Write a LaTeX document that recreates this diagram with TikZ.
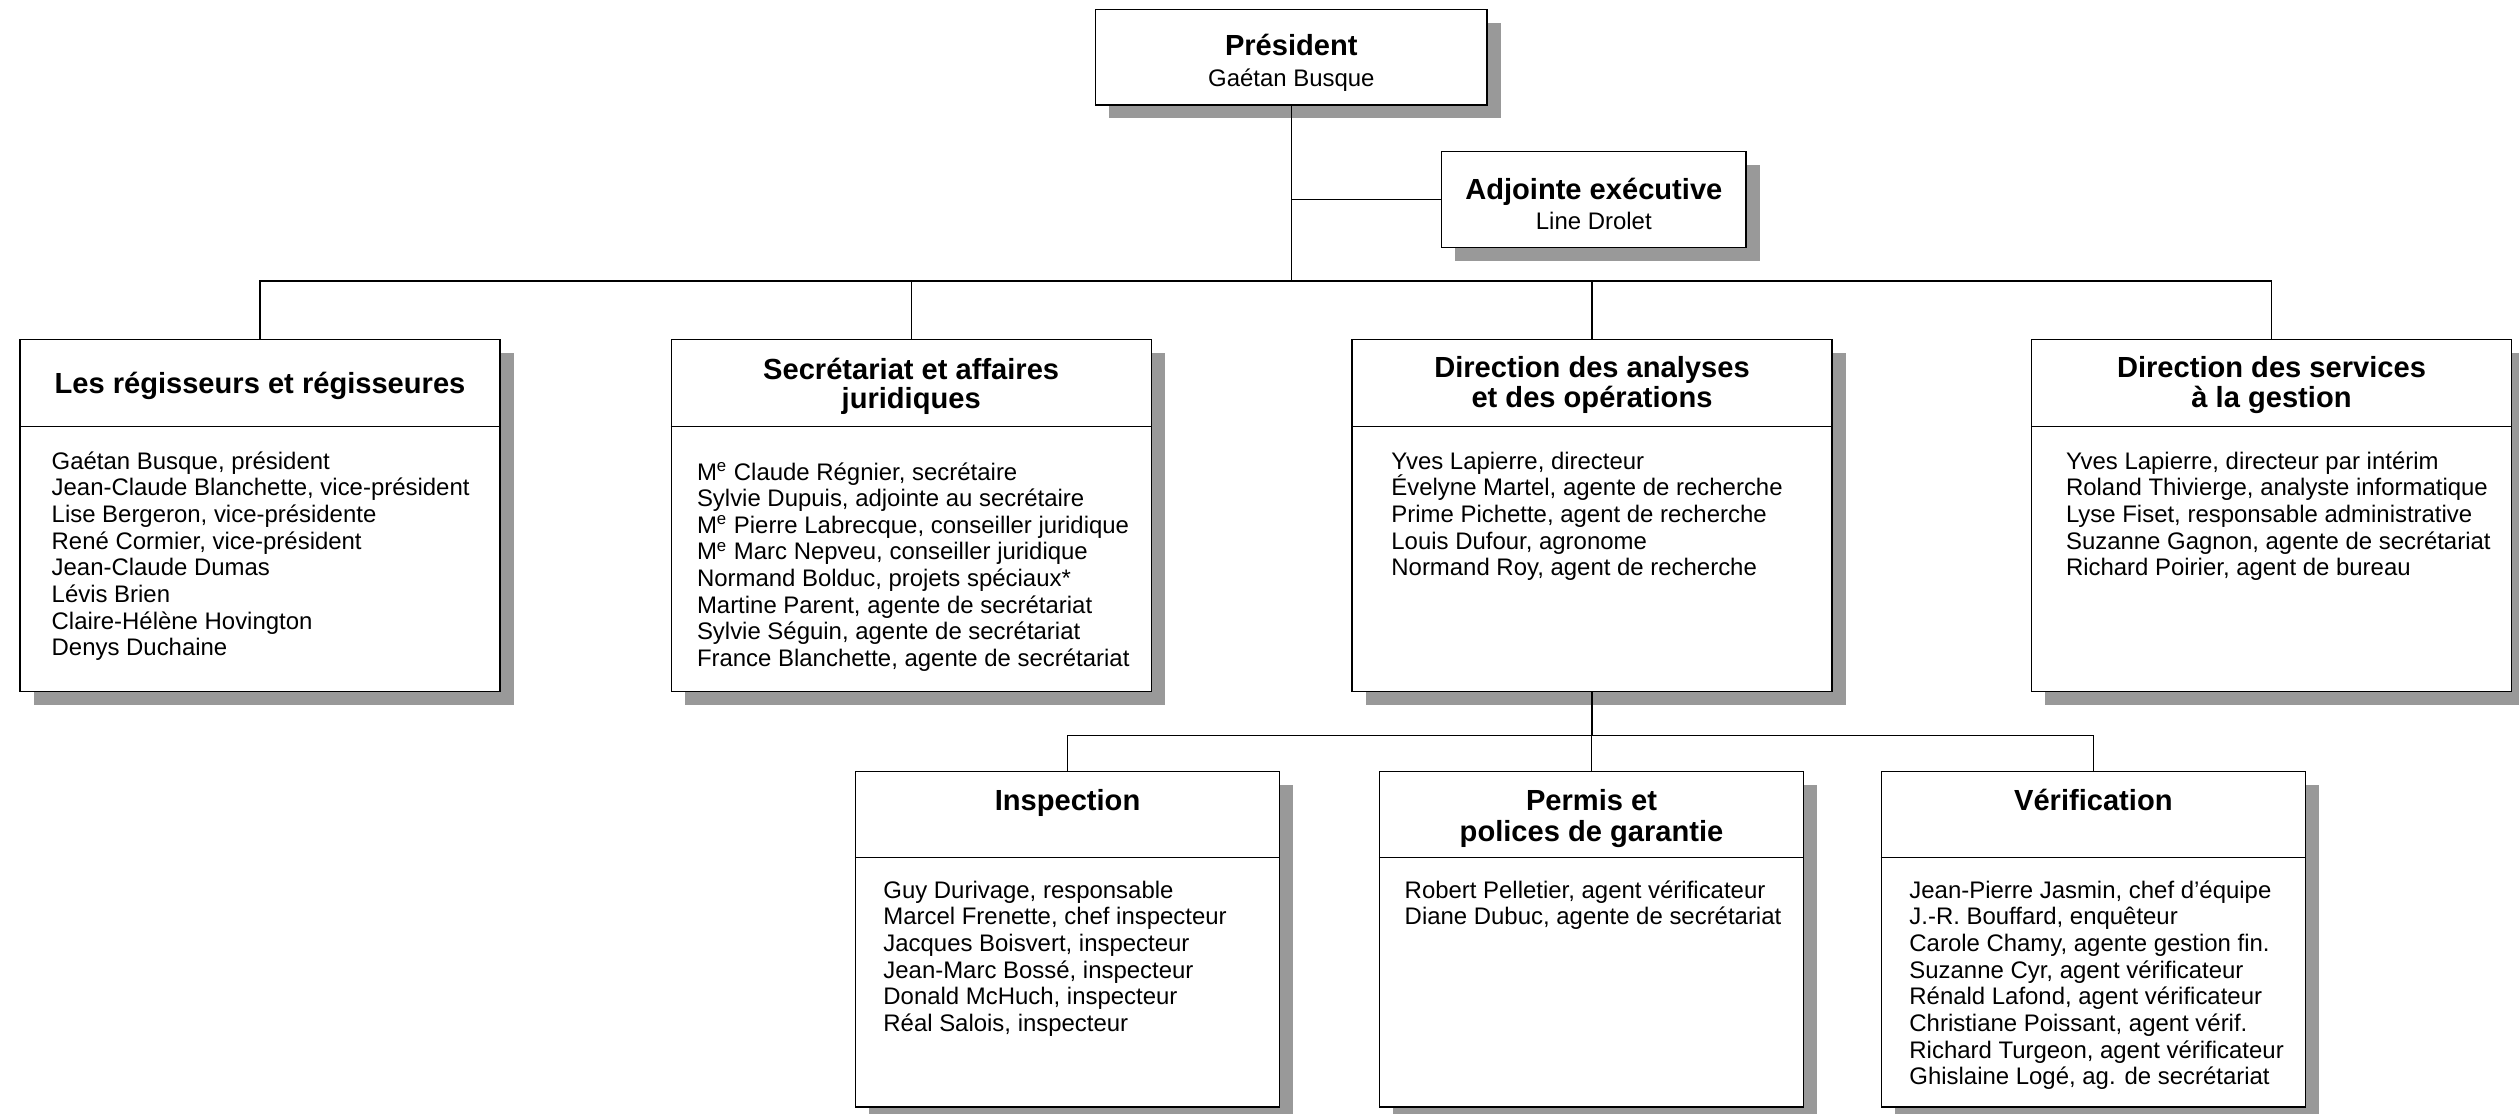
\documentclass[tikz,border=0pt]{standalone}
\usepackage{fontspec}
\setmainfont{Liberation Sans}
\usetikzlibrary{calc,shadows}
\definecolor{shadowgray}{HTML}{999999}
\newcommand\ttlfont{\fontsize{14.55pt}{15pt}\selectfont\bfseries}
\newcommand\bdyfont{\fontsize{11.97pt}{13.33pt}\selectfont}
\newcommand\ctitle[2]{\vtop{\baselineskip=#1\lineskiplimit=-50pt\halign{\hfil##\hfil\cr#2\crcr}}}
\newcommand\blist[1]{\vtop{\baselineskip=13.33pt\lineskiplimit=-50pt\halign{##\hfil\cr#1\crcr}}}
\newcommand\Me{M\textsuperscript{e}}
\tikzset{
  box/.style={draw=black, line width=0.7pt, fill=white, inner sep=0pt,
    drop shadow={shadow xshift=6.75pt, shadow yshift=-6.75pt, fill=shadowgray, opacity=1}},
  bigbox/.style={box, minimum width=240pt, minimum height=176pt},
  smallbox/.style={box, minimum width=212pt, minimum height=167.65pt},
  sepline/.style={draw=black, line width=0.7pt},
  conn/.style={draw=black, line width=0.55pt},
  ttl/.style={inner sep=0pt, anchor=base, font=\ttlfont},
  body/.style={inner sep=0pt, anchor=base west, font=\bdyfont},
}
\begin{document}
\begin{tikzpicture}[x=0.5pt,y=-0.5pt]
\clip (0,0) rectangle (2519,1113);
% boxes
\node[box, minimum width=195.7pt, minimum height=47.75pt] (P) at (1291.3,57.25) {};
\node[box, minimum width=152.2pt, minimum height=47.8pt] (Adj) at (1593.8,199.5) {};
\node[bigbox] (A) at (260,515.3) {};
\node[bigbox] (B) at (911.2,515.3) {};
\node[bigbox] (C) at (1592,515.3) {};
\node[bigbox] (D) at (2271.5,515.3) {};
\node[smallbox] (I) at (1067.5,939.35) {};
\node[smallbox] (Pm) at (1591.5,939.35) {};
\node[smallbox] (V) at (2093.3,939.35) {};
% header separators
\foreach \n in {A,B,C,D} \draw[sepline] ($(\n.north west)+(0,88)$) -- ($(\n.north east)+(0,88)$);
\foreach \n in {I,Pm,V} \draw[sepline] ($(\n.north west)+(0,86.6)$) -- ($(\n.north east)+(0,86.6)$);
% top texts
\node[inner sep=0pt, anchor=base, font=\bdyfont] (Pt) at (1291.3,56) {\ctitle{15.15pt}{{\ttlfont Président}\cr Gaétan Busque}};
\node[inner sep=0pt, anchor=base, font=\bdyfont] (Adjt) at (1593.8,199) {\ctitle{15.3pt}{{\ttlfont Adjointe exécutive}\cr Line Drolet}};
% titles
\node[ttl] (At) at (260,393.5) {\ctitle{14.75pt}{Les régisseurs et régisseures}};
\node[ttl] (Bt) at (911.2,379) {\ctitle{14.75pt}{Secrétariat et affaires\cr juridiques}};
\node[ttl] (Ct) at (1592,377.5) {\ctitle{14.9pt}{Direction des analyses\cr et des opérations}};
\node[ttl] (Dt) at (2271.5,377.5) {\ctitle{14.9pt}{Direction des services\cr à la gestion}};
\node[ttl] (It) at (1067.5,810) {\ctitle{14.75pt}{Inspection}};
\node[ttl] (Pmt) at (1591.5,810.5) {\ctitle{15.25pt}{Permis et\cr polices de garantie}};
\node[ttl] (Vt) at (2093.3,810) {\ctitle{14.75pt}{Vérification}};
% bodies
\node[body] (Ab) at (51.3,469.3) {\blist{Gaétan Busque, président\cr
Jean-Claude Blanchette, vice-président\cr
Lise Bergeron, vice-présidente\cr
René Cormier, vice-président\cr
Jean-Claude Dumas\cr
Lévis Brien\cr
Claire-Hélène Hovington\cr
Denys Duchaine}};
\node[body] (Bb) at (696.6,480) {\blist{\Me{} Claude Régnier, secrétaire\cr
Sylvie Dupuis, adjointe au secrétaire\cr
\Me{} Pierre Labrecque, conseiller juridique\cr
\Me{} Marc Nepveu, conseiller juridique\cr
Normand Bolduc, projets spéciaux*\cr
Martine Parent, agente de secrétariat\cr
Sylvie Séguin, agente de secrétariat\cr
France Blanchette, agente de secrétariat}};
\node[body] (Cb) at (1391,469.3) {\blist{Yves Lapierre, directeur\cr
Évelyne Martel, agente de recherche\cr
Prime Pichette, agent de recherche\cr
Louis Dufour, agronome\cr
Normand Roy, agent de recherche}};
\node[body] (Db) at (2065.6,469.3) {\blist{Yves Lapierre, directeur par intérim\cr
Roland Thivierge, analyste informatique\cr
Lyse Fiset, responsable administrative\cr
Suzanne Gagnon, agente de secrétariat\cr
Richard Poirier, agent de bureau}};
\node[body] (Ib) at (883,898.3) {\blist{Guy Durivage, responsable\cr
Marcel Frenette, chef inspecteur\cr
Jacques Boisvert, inspecteur\cr
Jean-Marc Bossé, inspecteur\cr
Donald McHuch, inspecteur\cr
Réal Salois, inspecteur}};
\node[body] (Pmb) at (1404.3,898.3) {\blist{Robert Pelletier, agent vérificateur\cr
Diane Dubuc, agente de secrétariat}};
\node[body] (Vb) at (1909,898.3) {\blist{Jean-Pierre Jasmin, chef d’équipe\cr
J.-R. Bouffard, enquêteur\cr
Carole Chamy, agente gestion fin.\cr
Suzanne Cyr, agent vérificateur\cr
Rénald Lafond, agent vérificateur\cr
Christiane Poissant, agent vérif.\cr
Richard Turgeon, agent vérificateur\cr
Ghislaine Logé, ag. de secrétariat}};
% connectors
\coordinate (bus1) at (0,281);
\coordinate (bus2) at (0,735.7);
\draw[conn] (P.south) -- (P.south |- bus1);
\draw[conn] (P.south |- Adj.west) -- (Adj.west);
\draw[conn] (A.north) -- (A.north |- bus1) -- (D.north |- bus1) -- (D.north);
\draw[conn] (B.north |- bus1) -- (B.north);
\draw[conn] (C.north |- bus1) -- (C.north);
\draw[conn] (C.south) -- (C.south |- bus2);
\draw[conn] (I.north) -- (I.north |- bus2) -- (V.north |- bus2) -- (V.north);
\draw[conn] (Pm.north |- bus2) -- (Pm.north);
\end{tikzpicture}
\end{document}
